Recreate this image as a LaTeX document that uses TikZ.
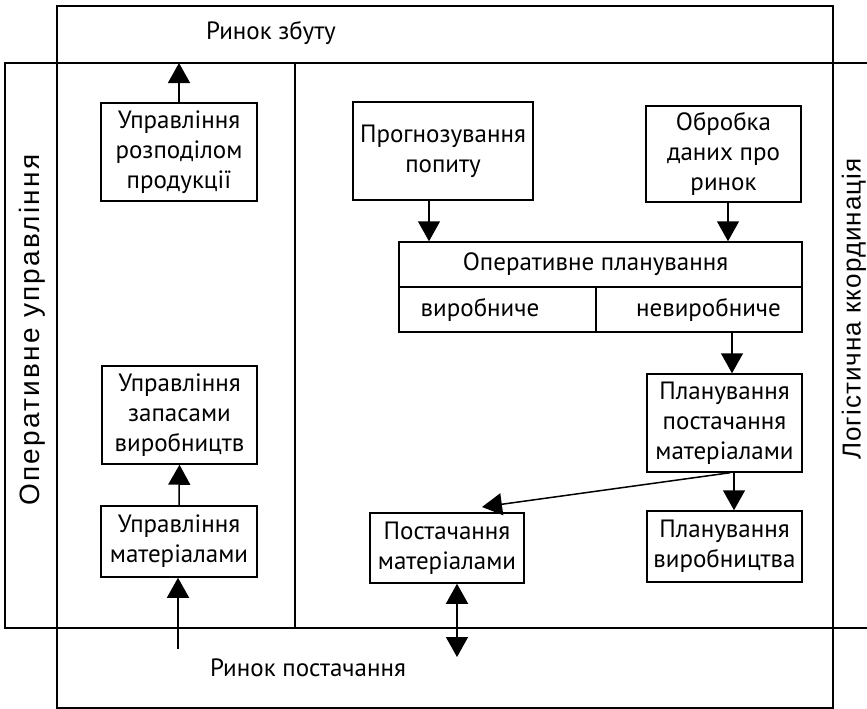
\documentclass[tikz,border=0pt]{standalone}
\usepackage{fontspec}
\setmainfont{PT Sans}
\newfontfamily\sidefontwide[LetterSpace=8]{Liberation Sans}
\newfontfamily\sidefont[LetterSpace=4]{Liberation Sans}
\usetikzlibrary{arrows.meta}
\begin{document}
\begin{tikzpicture}[x=1pt,y=-1pt,
  frame/.style={line width=1.5pt},
  blk/.style={draw,line width=1.5pt,align=center,inner sep=0pt,
    font=\fontsize{25}{30}\selectfont},
  txt/.style={inner sep=0pt,font=\fontsize{25}{30}\selectfont},
  side/.style={inner sep=0pt,rotate=90},
  arr/.style={line width=1.5pt,-{Triangle[length=20pt,width=22pt]}},
  darr/.style={line width=1.5pt,{Triangle[length=20pt,width=22pt]}-{Triangle[length=20pt,width=22pt]}}]
\useasboundingbox (0,0) rectangle (867,709);

% outer frames
\draw[frame] (57,6) rectangle (833,708);
\draw[frame] (870,63) -- (5,63) -- (5,628) -- (870,628);
\draw[frame] (295,63) -- (295,628);

% frame labels
\node[txt] (zbut) at (271,33) {Ринок збуту};
\node[txt] (postach) at (308,668) {Ринок постачання};
\node[side,font=\sidefontwide\fontsize{28}{32}\selectfont] (leftlbl) at (32,330) {Оперативне управління};
\node[side,font=\sidefont\fontsize{26}{30}\selectfont] (rightlbl) at (854,309) {Логістична ккординація};

% left column
\node[blk,minimum width=156pt,minimum height=98pt] (rozp) at (179,152)
  {Управління\\розподілом\\продукції};
\node[blk,minimum width=155pt,minimum height=98pt] (zap) at (179.5,415)
  {Управління\\запасами\\виробництв};
\node[blk,minimum width=156pt,minimum height=71pt] (mat) at (179,541.5)
  {Управління\\матеріалами};

% right column
\node[blk,minimum width=180pt,minimum height=98pt] (prog) at (443,151)
  {Прогнозування\\попиту};
\node[blk,minimum width=155pt,minimum height=96pt] (obr) at (723.5,154)
  {Обробка\\даних про\\ринок};
\node[draw,line width=1.5pt,minimum width=403pt,minimum height=90pt,inner sep=0pt] (oper) at (600.5,287) {};
\draw[frame] (oper.west) -- (oper.east);
\draw[frame] (596,287) -- (596,332);
\node[txt] (opertitle) at (595.5,264.5) {Оперативне планування};
\node[txt] (vyrob) at (480,309.5) {виробниче};
\node[txt] (nevyrob) at (708.5,309.5) {невиробниче};
\node[blk,minimum width=155pt,minimum height=98pt] (plpost) at (724.5,423)
  {Планування\\постачання\\матеріалами};
\node[blk,minimum width=155pt,minimum height=71pt] (plvyr) at (724.5,546.5)
  {Планування\\виробництва};
\node[blk,minimum width=154pt,minimum height=70pt] (post) at (447,548)
  {Постачання\\матеріалами};

% connector end points on the frames
\coordinate (zbIn) at (179,63);
\coordinate (supIn) at (178,649);
\coordinate (supOut) at (457,657);
\coordinate (diagTip) at (482,507);

% connectors
\draw[arr] (rozp.north) -- (zbIn);
\draw[arr] (mat.north) -- (zap.south);
\draw[arr] (supIn) -- (mat.south -| supIn);
\draw[arr] (prog.south -| 429,0) -- (oper.north -| 429,0);
\draw[arr] (obr.south -| 728,0) -- (oper.north -| 728,0);
\draw[arr] (oper.south -| 732,0) -- (plpost.north -| 732,0);
\draw[arr] (plpost.south -| 734,0) -- (plvyr.north -| 734,0);
\draw[arr] (plpost.south -| 730,0) -- (diagTip);
\draw[darr] (post.south -| supOut) -- (supOut);
\end{tikzpicture}
\end{document}
